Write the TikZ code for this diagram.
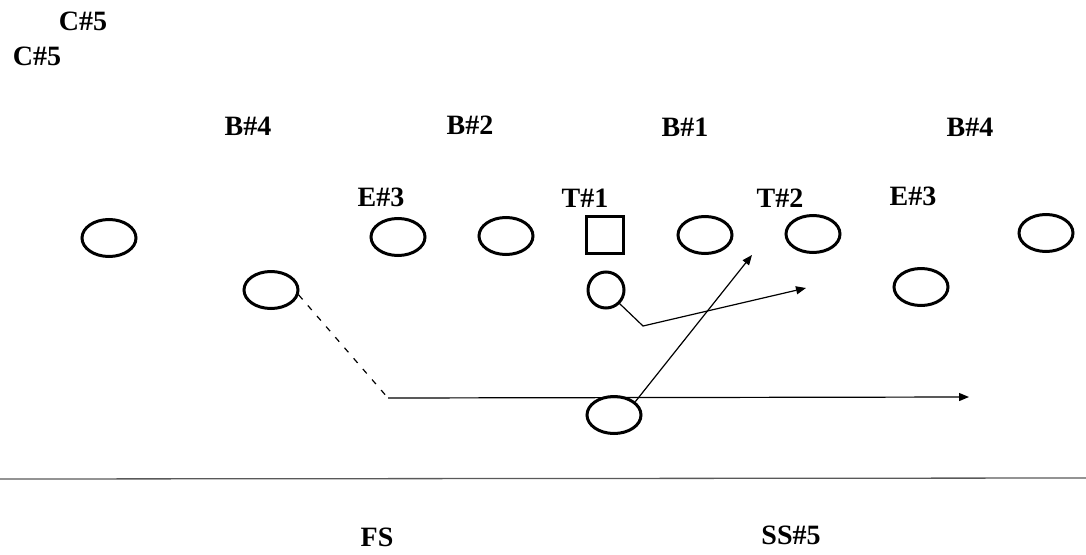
\documentclass[tikz,border=0pt]{standalone}
\usepackage{fontspec}
\setmainfont{Liberation Serif}
\usetikzlibrary{shapes.geometric,arrows.meta}
\begin{document}
\begin{tikzpicture}[x=1pt,y=-1pt,
  player/.style={ellipse,draw,line width=3pt,minimum width=54pt,minimum height=37pt,inner sep=0pt},
  ballc/.style={circle,draw,line width=3pt,minimum size=36pt,inner sep=0pt},
  centerbox/.style={rectangle,draw,line width=2.6pt,minimum size=37pt,inner sep=0pt},
  lbl/.style={font=\fontsize{28}{30}\selectfont\bfseries,inner sep=0pt},
  route/.style={line width=1.2pt,-{Triangle[length=10pt,width=8pt]}},
  dashroute/.style={line width=1.2pt,dash pattern=on 6pt off 8pt},
  field/.style={line width=1.3pt,draw=black!65}
]
\useasboundingbox (0,0) rectangle (1086,554);
% labels
\node[lbl] (c5a) at (83,21) {C\#5};
\node[lbl] (c5b) at (37,56) {C\#5};
\node[lbl] (b4l) at (248,126) {B\#4};
\node[lbl] (b2) at (470,125) {B\#2};
\node[lbl] (b1) at (685,127) {B\#1};
\node[lbl] (b4r) at (970,127) {B\#4};
\node[lbl] (e3l) at (381,197) {E\#3};
\node[lbl] (t1) at (585,198) {T\#1};
\node[lbl] (t2) at (780,198) {T\#2};
\node[lbl] (e3r) at (913,196) {E\#3};
\node[lbl] (fs) at (377,537) {FS};
\node[lbl] (ss5) at (791,535) {SS\#5};
% players
\node[player] (p1) at (109,238) {};
\node[player] (p2) at (271,290) {};
\node[player] (p3) at (398,237) {};
\node[player] (p4) at (506,236) {};
\node[centerbox] (ctr) at (605,235) {};
\node[player] (p5) at (705,235) {};
\node[player] (p6) at (813,234) {};
\node[player] (p7) at (921,287) {};
\node[player] (p8) at (1046,233) {};
\node[ballc] (qb) at (606,290) {};
\node[player] (bk) at (614,415) {};
% route points
\coordinate (bend1) at (643,326);
\coordinate (tip1) at (806,288);
\coordinate (tip2) at (752,255);
\coordinate (corner) at (388,398);
\coordinate (tip3) at (969,397);
\coordinate (lineL) at (0,479);
\coordinate (lineR) at (1086,478);
% routes
\draw[route] (qb.-45) -- (bend1) -- (tip1);
\draw[route] (bk.32) -- (tip2);
\draw[dashroute] (p2.-10) -- (corner);
\draw[route] (corner) -- (tip3);
% field line
\draw[field] (lineL) -- (lineR);
\end{tikzpicture}
\end{document}
